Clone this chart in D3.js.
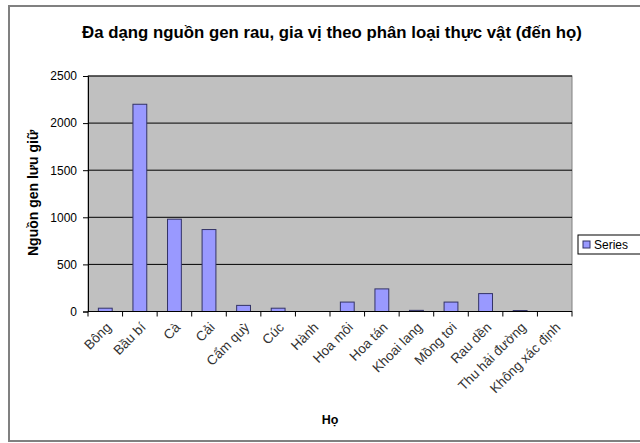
<!DOCTYPE html>
<html><head><meta charset="utf-8">
<script src="https://cdn.jsdelivr.net/npm/d3@7"></script>
<style>body{margin:0;background:#fff}svg{display:block;font-family:"Liberation Sans",Arial,sans-serif}</style>
</head><body><svg id="c" width="640" height="443"></svg>
<script>
const categories = ["Bông","Bầu bí","Cà","Cải","Cẩm quỳ","Cúc","Hành","Hoa môi","Hoa tán","Khoai lang","Mồng tơi","Rau dền","Thu hải đường","Không xác định"];
const values = [35,2200,980,870,65,35,0,100,240,12,100,190,10,0];
const yTicks = [0,500,1000,1500,2000,2500];
const seriesName = "Series";

const svg = d3.select("#c");
const m = {l:88, t:76, r:572, b:311.5};
svg.append("rect").attr("x",9).attr("y",6).attr("width",640).attr("height",435)
  .attr("fill","#fff").attr("stroke","#808080").attr("stroke-width",2);

const x = d3.scaleBand().domain(categories).range([m.l,m.r]);
const y = d3.scaleLinear().domain([0,2500]).range([m.b,m.t]);

svg.append("rect").attr("x",m.l).attr("y",m.t).attr("width",m.r-m.l).attr("height",m.b-m.t)
  .attr("fill","#C0C0C0").attr("stroke","#808080").attr("stroke-width",1);

svg.append("g").selectAll("line").data(yTicks.filter(d=>d>0)).join("line")
  .attr("x1",m.l).attr("x2",m.r).attr("y1",d=>y(d)).attr("y2",d=>y(d))
  .attr("stroke","#000").attr("stroke-width",1);

const bw = x.bandwidth()/2.5;
svg.append("g").selectAll("rect").data(values).join("rect")
  .attr("x",(d,i)=>x(categories[i])+x.bandwidth()/2-bw/2)
  .attr("y",d=>y(d)).attr("width",bw).attr("height",d=>m.b-y(d))
  .attr("fill","#9999FF").attr("stroke","#333366").attr("stroke-width",1);

// y axis
const ya = svg.append("g").attr("transform",`translate(${m.l},0)`)
  .call(d3.axisLeft(y).tickValues(yTicks).tickFormat(d3.format("d")).tickSize(5).tickPadding(6));
ya.select(".domain").attr("stroke","#000");
ya.selectAll("text").attr("font-size",12).attr("fill","#000");

// x axis
const xa = svg.append("g").attr("transform",`translate(0,${m.b})`);
xa.append("line").attr("x1",m.l).attr("x2",m.r).attr("stroke","#000");
const bounds = d3.range(categories.length+1).map(i=>m.l+i*x.step());
xa.selectAll("line.t").data(bounds).join("line").attr("class","t")
  .attr("x1",d=>d).attr("x2",d=>d).attr("y1",0).attr("y2",5).attr("stroke","#000");
xa.selectAll("text").data(categories).join("text")
  .attr("transform",d=>`translate(${x(d)+x.bandwidth()/2},10) rotate(-45)`)
  .attr("text-anchor","end").attr("dy","0.7em").attr("font-size",13.5).attr("fill","#333")
  .text(d=>d);

svg.append("text").attr("x",332).attr("y",38).attr("text-anchor","middle")
  .attr("font-size",16.8).attr("font-weight","bold").text("Đa dạng nguồn gen rau, gia vị theo phân loại thực vật (đến họ)");
svg.append("text").attr("transform","translate(38,193) rotate(-90)").attr("text-anchor","middle")
  .attr("font-size",14).attr("font-weight","bold").text("Nguồn gen lưu giữ");
svg.append("text").attr("x",330).attr("y",424).attr("text-anchor","middle")
  .attr("font-size",12.5).attr("font-weight","bold").text("Họ");

// legend
const lg = svg.append("g");
lg.append("rect").attr("x",578).attr("y",235).attr("width",70).attr("height",19)
  .attr("fill","#fff").attr("stroke","#000");
lg.append("rect").attr("x",583).attr("y",241).attr("width",7).attr("height",7)
  .attr("fill","#9999FF").attr("stroke","#333366");
lg.append("text").attr("x",594).attr("y",249).attr("font-size",12).text(seriesName);
</script></body></html>
